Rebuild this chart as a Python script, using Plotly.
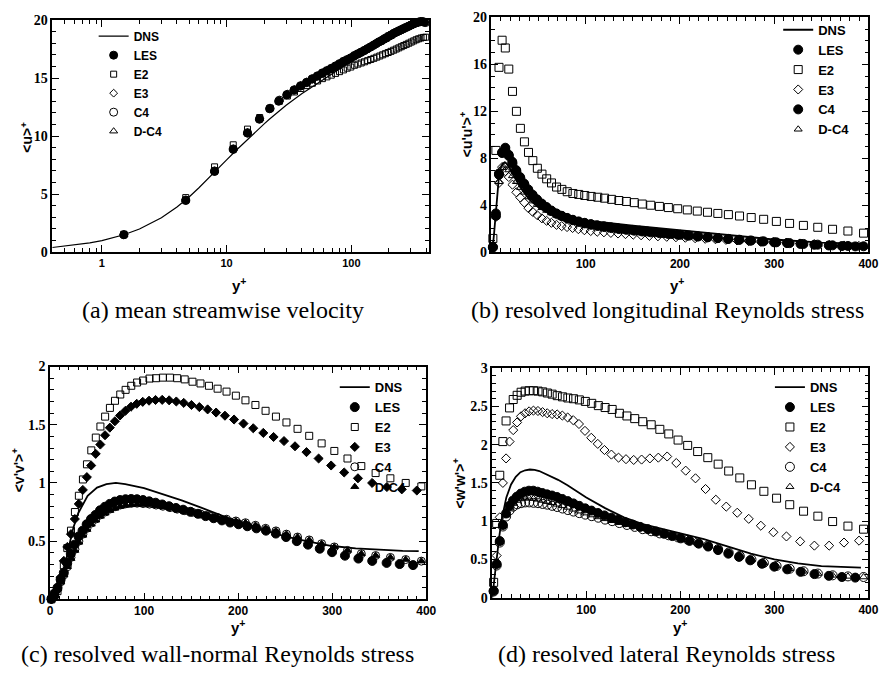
import plotly.graph_objects as go

W, H = 889, 679

# ---------------- grids (y+) ----------------
y_les = [1.5, 4.7, 8.0, 11.3, 14.7, 18.3, 22.1, 26.1, 30.3, 34.6, 39.0, 43.6, 48.3, 53.2, 58.3, 63.5,
         68.9, 74.5, 80.3, 86.3, 92.5, 98.9, 105.5, 112.3, 119.3, 126.5, 133.9, 141.5, 149.3, 157.3,
         165.5, 174.0, 182.8, 191.5, 200.5, 209.8, 219.5, 229.6, 240.1, 251.0, 262.4, 274.3, 286.8,
         299.9, 313.6, 327.9, 342.6, 357.9, 371.8, 386.0]
y_c4 = [1.5, 4.7, 8.0, 11.3, 14.7, 18.4, 22.3, 26.5, 30.7, 35.0, 39.3, 43.9, 48.7, 53.6, 58.6, 63.7,
        69.1, 74.7, 80.4, 86.4, 92.6, 99.0, 105.8, 112.8, 120.0, 127.5, 135.2, 143.2, 151.5, 160.0,
        169.0, 178.2, 187.7, 197.6, 207.8, 218.4, 229.2, 240.2, 251.4, 263.2, 275.6, 288.8, 302.3,
        316.3, 331.0, 346.2, 361.9, 378.2, 394.8]
y_e3 = [1.5, 4.7, 8.0, 11.3, 14.7, 18.4, 22.3, 26.4, 30.6, 34.9, 39.2, 43.8, 48.6, 53.5, 58.5, 63.6,
        69.0, 74.5, 80.2, 86.1, 92.2, 98.6, 105.3, 112.2, 119.3, 126.7, 134.3, 142.2, 150.4, 158.8,
        167.6, 176.6, 186.0, 195.7, 205.7, 216.1, 226.8, 237.7, 248.8, 260.5, 272.7, 285.6, 298.9,
        312.8, 327.4, 342.5, 358.2, 374.0, 390.0]

# ---------------- (a) mean streamwise velocity ----------------
yd_a = [0.4, 0.6, 0.8, 1, 1.5, 2, 3, 4, 5, 6, 7, 8, 9, 10, 12, 14, 16, 18, 20, 22, 26, 30, 40, 50,
        60, 80, 100, 150, 200, 250, 300, 350, 392]
ua_dns = [0.4, 0.6, 0.8, 1.0, 1.5, 2.0, 2.97, 3.9, 4.75, 5.55, 6.25, 6.9, 7.45, 7.95, 8.8, 9.5, 10.1,
          10.6, 11.05, 11.45, 12.1, 12.65, 13.65, 14.35, 14.9, 15.8, 16.45, 17.7, 18.55, 19.15, 19.55,
          19.75, 19.8]
ua_les = [1.5, 4.45, 6.95, 8.85, 10.25, 11.45, 12.35, 13.0, 13.55, 13.95, 14.3, 14.6, 14.9, 15.15,
          15.4, 15.6, 15.8, 16.0, 16.2, 16.4, 16.55, 16.7, 16.9, 17.05, 17.2, 17.35, 17.5, 17.65, 17.8,
          17.95, 18.1, 18.2, 18.35, 18.45, 18.6, 18.7, 18.85, 18.95, 19.05, 19.15, 19.25, 19.35, 19.45,
          19.55, 19.65, 19.75, 19.8, 19.85, 19.85, 19.8]
ua_e2 = [1.55, 4.7, 7.35, 9.25, 10.6, 11.6, 12.4, 13.0, 13.45, 13.8, 14.1, 14.35, 14.55, 14.75, 14.95,
         15.1, 15.25, 15.4, 15.55, 15.7, 15.85, 15.95, 16.1, 16.2, 16.3, 16.4, 16.5, 16.6, 16.7, 16.8,
         16.9, 17.0, 17.1, 17.2, 17.3, 17.4, 17.5, 17.6, 17.7, 17.8, 17.9, 18.0, 18.1, 18.2, 18.3,
         18.38, 18.45, 18.5, 18.52]
ua_e3 = [1.5, 4.5, 7.0, 8.9, 10.3, 11.5, 12.4, 13.05, 13.6, 14.0, 14.35, 14.65, 14.95, 15.2, 15.45,
         15.65, 15.85, 16.05, 16.25, 16.45, 16.6, 16.75, 16.95, 17.1, 17.25, 17.4, 17.55, 17.7, 17.85,
         18.0, 18.15, 18.3, 18.45, 18.6, 18.7, 18.85, 18.95, 19.05, 19.15, 19.25, 19.35, 19.45, 19.55,
         19.65, 19.75, 19.82, 19.86, 19.85, 19.8]
ua_c4 = [1.5, 4.5, 7.0, 8.9, 10.3, 11.5, 12.4, 13.1, 13.6, 14.0, 14.35, 14.65, 14.95, 15.2, 15.45,
         15.65, 15.85, 16.05, 16.25, 16.45, 16.6, 16.75, 16.95, 17.1, 17.25, 17.4, 17.55, 17.7, 17.85,
         18.0, 18.15, 18.3, 18.45, 18.6, 18.72, 18.85, 18.97, 19.08, 19.18, 19.28, 19.38, 19.48, 19.58,
         19.68, 19.76, 19.83, 19.87, 19.85, 19.78]
ua_dc4 = ua_c4

# ---------------- (b) <u'u'>+ ----------------
yd_b = [0, 1.5, 3, 4.5, 6, 8, 10, 12, 14, 16, 18, 20, 25, 30, 40, 50, 60, 70, 80, 100, 150, 200, 250,
        300, 350, 392]
ub_dns = [0, 0.5, 1.8, 3.3, 4.9, 6.5, 7.2, 7.55, 7.65, 7.55, 7.3, 7.0, 6.3, 5.6, 4.5, 3.8, 3.35, 3.1,
          2.95, 2.7, 2.25, 1.85, 1.45, 1.08, 0.82, 0.72]
ub_les = [0.45, 3.3, 6.7, 8.45, 8.9, 8.3, 7.7, 7.0, 6.4, 5.85, 5.35, 4.9, 4.5, 4.15, 3.85, 3.55, 3.3,
          3.1, 2.92, 2.76, 2.62, 2.5, 2.39, 2.29, 2.2, 2.12, 2.04, 1.97, 1.9, 1.83, 1.76, 1.69, 1.62,
          1.55, 1.48, 1.41, 1.34, 1.27, 1.2, 1.13, 1.05, 0.98, 0.91, 0.84, 0.77, 0.7, 0.63, 0.57, 0.52,
          0.49]
ub_e2 = [1.17, 8.67, 15.75, 18.06, 17.4, 15.6, 13.7, 12.0, 10.55, 9.4, 8.5, 7.8, 7.15, 6.65, 6.25,
         5.9, 5.55, 5.35, 5.15, 5.0, 4.92, 4.83, 4.75, 4.68, 4.6, 4.5, 4.4, 4.32, 4.22, 4.1, 4.0, 3.9,
         3.8, 3.7, 3.6, 3.5, 3.4, 3.3, 3.2, 3.08, 2.95, 2.8, 2.62, 2.45, 2.28, 2.12, 1.95, 1.8, 1.62]
ub_e3 = [0.5, 3.0, 5.9, 7.25, 6.9, 6.4, 5.75, 5.1, 4.65, 4.22, 3.75, 3.43, 3.15, 2.88, 2.67, 2.5, 2.33,
         2.22, 2.14, 2.06, 1.96, 1.87, 1.8, 1.74, 1.69, 1.64, 1.59, 1.54, 1.49, 1.44, 1.39, 1.35, 1.31,
         1.27, 1.23, 1.19, 1.14, 1.1, 1.05, 1.0, 0.95, 0.9, 0.85, 0.8, 0.74, 0.68, 0.62, 0.57, 0.53]
ub_c4 = [0.4, 3.1, 6.6, 8.5, 8.7, 8.2, 7.55, 6.9, 6.3, 5.75, 5.25, 4.8, 4.42, 4.08, 3.78, 3.5, 3.27,
         3.07, 2.88, 2.72, 2.58, 2.45, 2.33, 2.23, 2.14, 2.05, 1.97, 1.9, 1.83, 1.76, 1.69, 1.62, 1.55,
         1.48, 1.41, 1.34, 1.27, 1.2, 1.13, 1.06, 0.99, 0.92, 0.84, 0.77, 0.7, 0.64, 0.58, 0.53, 0.5]
ub_dc4 = [0.4, 3.0, 6.0, 7.2, 7.4, 7.0, 6.5, 6.0, 5.5, 5.1, 4.7, 4.35, 4.05, 3.78, 3.55, 3.33, 3.13,
          2.95, 2.8, 2.66, 2.53, 2.42, 2.32, 2.22, 2.13, 2.05, 1.97, 1.9, 1.83, 1.76, 1.69, 1.62, 1.55,
          1.48, 1.41, 1.34, 1.27, 1.2, 1.13, 1.06, 0.99, 0.92, 0.84, 0.77, 0.7, 0.64, 0.58, 0.53, 0.5]

# ---------------- (c) <v'v'>+ ----------------
yd_c = [0, 5, 10, 15, 20, 25, 30, 40, 50, 60, 70, 80, 100, 120, 140, 160, 180, 200, 225, 250, 275,
        300, 325, 350, 375, 392]
vc_dns = [0, 0.02, 0.09, 0.25, 0.45, 0.62, 0.74, 0.89, 0.96, 0.99, 1.0, 0.99, 0.955, 0.905, 0.85,
          0.79, 0.725, 0.665, 0.6, 0.54, 0.495, 0.458, 0.437, 0.424, 0.417, 0.414]
vc_les = [0.005, 0.05, 0.1, 0.17, 0.23, 0.31, 0.39, 0.47, 0.54, 0.59, 0.645, 0.69, 0.725, 0.765, 0.795,
          0.82, 0.84, 0.853, 0.86, 0.862, 0.86, 0.853, 0.842, 0.83, 0.815, 0.8, 0.785, 0.77, 0.752,
          0.735, 0.715, 0.697, 0.678, 0.66, 0.645, 0.628, 0.61, 0.59, 0.565, 0.535, 0.5, 0.47, 0.435,
          0.405, 0.375, 0.35, 0.33, 0.313, 0.303, 0.294]
vc_e2 = [0.0, 0.02, 0.07, 0.16, 0.29, 0.44, 0.59, 0.75, 0.89, 1.03, 1.16, 1.28, 1.39, 1.485, 1.57,
         1.645, 1.706, 1.76, 1.8, 1.835, 1.863, 1.88, 1.897, 1.9, 1.905, 1.905, 1.9, 1.89, 1.87, 1.855,
         1.835, 1.81, 1.785, 1.75, 1.71, 1.67, 1.62, 1.57, 1.52, 1.465, 1.405, 1.34, 1.275, 1.21,
         1.145, 1.085, 1.04, 1.0, 0.97]
vc_e3 = [0.0, 0.02, 0.08, 0.19, 0.33, 0.45, 0.56, 0.69, 0.82, 0.94, 1.05, 1.15, 1.25, 1.33, 1.41,
         1.475, 1.53, 1.58, 1.62, 1.655, 1.68, 1.697, 1.707, 1.713, 1.714, 1.71, 1.7, 1.688, 1.67,
         1.652, 1.632, 1.605, 1.578, 1.545, 1.51, 1.47, 1.43, 1.395, 1.36, 1.315, 1.265, 1.21, 1.15,
         1.09, 1.04, 1.0, 0.965, 0.945, 0.935]
vc_c4 = [0.0, 0.04, 0.09, 0.15, 0.21, 0.28, 0.36, 0.43, 0.5, 0.56, 0.61, 0.655, 0.69, 0.725, 0.75,
         0.775, 0.795, 0.81, 0.82, 0.825, 0.826, 0.823, 0.818, 0.81, 0.8, 0.788, 0.775, 0.762, 0.748,
         0.733, 0.718, 0.703, 0.688, 0.673, 0.658, 0.636, 0.61, 0.588, 0.56, 0.535, 0.51, 0.478, 0.45,
         0.42, 0.392, 0.376, 0.36, 0.342, 0.328]
vc_dc4 = [0.0, 0.04, 0.09, 0.15, 0.21, 0.28, 0.35, 0.42, 0.49, 0.55, 0.6, 0.645, 0.68, 0.713, 0.74,
          0.763, 0.782, 0.797, 0.807, 0.812, 0.815, 0.814, 0.81, 0.803, 0.795, 0.785, 0.773, 0.761,
          0.748, 0.733, 0.718, 0.703, 0.688, 0.673, 0.658, 0.636, 0.61, 0.588, 0.56, 0.535, 0.51,
          0.478, 0.45, 0.42, 0.392, 0.376, 0.36, 0.342, 0.328]

# ---------------- (d) <w'w'>+ ----------------
yd_d = [0, 2.5, 5, 7.5, 10, 12.5, 15, 20, 25, 30, 35, 40, 45, 50, 60, 70, 80, 100, 120, 140, 160, 180,
        200, 225, 250, 275, 300, 325, 350, 375, 392]
wd_dns = [0, 0.29, 0.55, 0.8, 1.02, 1.18, 1.31, 1.48, 1.58, 1.64, 1.665, 1.675, 1.67, 1.655, 1.6,
          1.54, 1.47, 1.31, 1.17, 1.05, 0.96, 0.9, 0.84, 0.765, 0.67, 0.575, 0.5, 0.448, 0.413, 0.398,
          0.392]
wd_les = [0.09, 0.44, 0.74, 0.95, 1.1, 1.2, 1.27, 1.32, 1.36, 1.385, 1.398, 1.398, 1.385, 1.368, 1.35,
          1.335, 1.315, 1.29, 1.262, 1.232, 1.2, 1.167, 1.138, 1.107, 1.075, 1.045, 1.018, 0.985,
          0.955, 0.925, 0.895, 0.865, 0.835, 0.805, 0.775, 0.742, 0.706, 0.668, 0.622, 0.575, 0.533,
          0.488, 0.443, 0.405, 0.37, 0.337, 0.308, 0.285, 0.27, 0.262]
wd_e2 = [0.2, 0.97, 1.6, 2.04, 2.31, 2.48, 2.59, 2.645, 2.685, 2.7, 2.705, 2.705, 2.7, 2.69, 2.675,
         2.66, 2.64, 2.625, 2.61, 2.6, 2.585, 2.565, 2.54, 2.51, 2.485, 2.46, 2.41, 2.375, 2.34, 2.3,
         2.26, 2.2, 2.14, 2.06, 1.99, 1.91, 1.83, 1.745, 1.655, 1.565, 1.475, 1.39, 1.3, 1.215, 1.13,
         1.065, 0.995, 0.935, 0.895]
wd_e3 = [0.1, 0.55, 1.05, 1.5, 1.82, 2.04, 2.19, 2.29, 2.37, 2.41, 2.435, 2.445, 2.44, 2.425, 2.41,
         2.4, 2.395, 2.38, 2.355, 2.32, 2.27, 2.18, 2.09, 2.01, 1.93, 1.87, 1.83, 1.81, 1.8, 1.805,
         1.82, 1.83, 1.845, 1.76, 1.66, 1.56, 1.42, 1.28, 1.19, 1.11, 1.03, 0.94, 0.855, 0.8, 0.735,
         0.68, 0.68, 0.72, 0.745]
wd_c4 = [0.08, 0.42, 0.72, 0.93, 1.06, 1.14, 1.19, 1.22, 1.235, 1.245, 1.245, 1.24, 1.235, 1.225, 1.215,
         1.2, 1.185, 1.165, 1.145, 1.125, 1.105, 1.085, 1.065, 1.045, 1.02, 1.0, 0.975, 0.95, 0.925,
         0.895, 0.868, 0.84, 0.815, 0.787, 0.757, 0.72, 0.68, 0.635, 0.59, 0.545, 0.5, 0.455, 0.415,
         0.378, 0.345, 0.315, 0.292, 0.278, 0.27]
wd_dc4 = [0.08, 0.43, 0.73, 0.94, 1.08, 1.17, 1.23, 1.27, 1.29, 1.3, 1.3, 1.295, 1.285, 1.27, 1.255,
          1.24, 1.22, 1.2, 1.18, 1.155, 1.13, 1.105, 1.08, 1.055, 1.03, 1.005, 0.98, 0.955, 0.93, 0.9,
          0.87, 0.845, 0.815, 0.787, 0.757, 0.72, 0.68, 0.635, 0.59, 0.545, 0.5, 0.455, 0.415, 0.378,
          0.345, 0.315, 0.292, 0.278, 0.27]

names = ["DNS", "LES", "E2", "E3", "C4", "D-C4"]
captions = ["(a) mean streamwise velocity", "(b) resolved longitudinal Reynolds stress",
            "(c) resolved wall-normal Reynolds stress", "(d) resolved lateral Reynolds stress"]
ylabels = ["&lt;u&gt;<sup>+</sup>", "&lt;u'u'&gt;<sup>+</sup>", "&lt;v'v'&gt;<sup>+</sup>",
           "&lt;w'w'&gt;<sup>+</sup>"]

panels = [
    dict(dns=(yd_a, ua_dns), les=ua_les, e2=ua_e2, e3=ua_e3, c4=ua_c4, dc4=ua_dc4, lw=1.2,
         sym=dict(les="circle", e2="square-open", e3="diamond-open", c4="circle-open", dc4="triangle-up-open"),
         size=dict(les=8, e2=6, e3=6, c4=8, dc4=7)),
    dict(dns=(yd_b, ub_dns), les=ub_les, e2=ub_e2, e3=ub_e3, c4=ub_c4, dc4=ub_dc4, lw=1.8,
         sym=dict(les="circle", e2="square-open", e3="diamond-open", c4="circle", dc4="triangle-up-open"),
         size=dict(les=9, e2=8, e3=7, c4=9, dc4=7)),
    dict(dns=(yd_c, vc_dns), les=vc_les, e2=vc_e2, e3=vc_e3, c4=vc_c4, dc4=vc_dc4, lw=1.8,
         sym=dict(les="circle", e2="square-open", e3="diamond", c4="circle-open", dc4="triangle-up"),
         size=dict(les=9, e2=7, e3=7, c4=8, dc4=7)),
    dict(dns=(yd_d, wd_dns), les=wd_les, e2=wd_e2, e3=wd_e3, c4=wd_c4, dc4=wd_dc4, lw=1.8,
         sym=dict(les="circle", e2="square-open", e3="diamond-open", c4="circle-open", dc4="triangle-up-open"),
         size=dict(les=9, e2=8, e3=7, c4=9, dc4=7)),
]

fig = go.Figure()
for i, p in enumerate(panels):
    k = "" if i == 0 else str(i + 1)
    xa, ya, lg = "x" + k, "y" + k, "legend" + k
    fig.add_trace(go.Scatter(x=p["dns"][0], y=p["dns"][1], mode="lines", name="DNS",
                             line=dict(color="black", width=p["lw"]), xaxis=xa, yaxis=ya, legend=lg))
    for key, nm, grid in [("les", "LES", y_les), ("e2", "E2", y_c4), ("e3", "E3", y_e3),
                          ("c4", "C4", y_c4), ("dc4", "D-C4", y_c4)]:
        fig.add_trace(go.Scatter(x=grid, y=p[key], mode="markers", name=nm, cliponaxis=False,
                                 marker=dict(symbol=p["sym"][key], size=p["size"][key], color="black",
                                             line=dict(color="black", width=1)),
                                 xaxis=xa, yaxis=ya, legend=lg))

def px2x(v):
    return v / W

def px2y(v):
    return 1 - v / H

xfont = dict(family="Liberation Sans", size=12, color="black", weight="bold")
yfont = dict(family="Liberation Serif", size=14, color="black", weight="bold")

def axis_common():
    return dict(showline=True, linecolor="black", linewidth=1.5, mirror="allticks", ticks="inside",
                ticklen=7, tickwidth=1, tickcolor="black", showgrid=False, zeroline=False)

def minor(dt):
    return dict(ticks="inside", ticklen=4, tickwidth=1, tickcolor="black", dtick=dt, showgrid=False)

# domains in pixels: (left, right, top, bottom)
boxes = [(50, 432, 13.3, 250.7), (495.7, 878.3, 10.7, 250.7), (47.7, 429.5, 367.7, 605.7),
         (496.5, 878.3, 369.3, 604)]

layout = dict(width=W, height=H, margin=dict(l=0, r=0, t=0, b=0), paper_bgcolor="white",
              plot_bgcolor="white", showlegend=True)

# (a)
b = boxes[0]
layout["xaxis"] = dict(axis_common(), domain=[px2x(b[0]), px2x(b[1])], anchor="y", type="log",
                       range=[-0.398, 2.62], tickvals=[1, 10, 100], ticktext=["1", "10", "100"],
                       tickfont=dict(xfont, size=11), minor=minor("D1"))
layout["yaxis"] = dict(axis_common(), domain=[px2y(b[3]), px2y(b[2])], anchor="x", range=[0, 20],
                       dtick=5, tickfont=yfont, minor=minor(1))
# (b)
b = boxes[1]
layout["xaxis2"] = dict(axis_common(), domain=[px2x(b[0]), px2x(b[1])], anchor="y2", range=[0, 400],
                        tickvals=[100, 200, 300, 400], tickfont=xfont, minor=minor(10))
layout["yaxis2"] = dict(axis_common(), domain=[px2y(b[3]), px2y(b[2])], anchor="x2", range=[0, 20],
                        dtick=4, tickfont=yfont, minor=minor(1))
# (c)
b = boxes[2]
layout["xaxis3"] = dict(axis_common(), domain=[px2x(b[0]), px2x(b[1])], anchor="y3", range=[0, 400],
                        dtick=100, tickfont=xfont, minor=minor(10))
layout["yaxis3"] = dict(axis_common(), domain=[px2y(b[3]), px2y(b[2])], anchor="x3", range=[0, 2],
                        tickvals=[0, 0.5, 1, 1.5, 2], ticktext=["0", "0.5", "1", "1.5", "2"], tickfont=yfont,
                        minor=minor(0.1))
# (d)
b = boxes[3]
layout["xaxis4"] = dict(axis_common(), domain=[px2x(b[0]), px2x(b[1])], anchor="y4", range=[0, 400],
                        tickvals=[100, 200, 300, 400], tickfont=xfont, minor=minor(10))
layout["yaxis4"] = dict(axis_common(), domain=[px2y(b[3]), px2y(b[2])], anchor="x4", range=[0, 3],
                        tickvals=[0, 0.5, 1, 1.5, 2, 2.5, 3], ticktext=["0", "0.5", "1", "1.5", "2", "2.5", "3"],
                        tickfont=yfont, minor=minor(0.1))

legend_pos = [(92, 15, 12), (786.7, 8, 13), (336.7, 373.5, 13), (778.3, 373.5, 13)]
for i, (lx, ly, fs) in enumerate(legend_pos):
    k = "legend" if i == 0 else "legend" + str(i + 1)
    layout[k] = dict(x=px2x(lx), y=px2y(ly), xanchor="left", yanchor="top", bgcolor="rgba(0,0,0,0)",
                     borderwidth=0, font=dict(family="Liberation Sans", size=fs, color="black", weight="bold"),
                     tracegroupgap=0, itemwidth=30)

fig.update_layout(**layout)

ann = []
cap_pos = [(223, 310), (674, 310), (218, 661.5), (673, 661.5)]
xt_pos = [(239, 284), (684, 284), (238, 634), (687, 634)]
yt_pos = [(24, 133), (470, 130), (15, 473), (463, 487)]
for i in range(4):
    ann.append(dict(text=captions[i], x=px2x(cap_pos[i][0]), y=px2y(cap_pos[i][1]), xref="paper",
                    yref="paper", showarrow=False, xanchor="center", yanchor="middle",
                    font=dict(family="Liberation Serif", size=24, color="black")))
    ann.append(dict(text="y<sup>+</sup>", x=px2x(xt_pos[i][0]), y=px2y(xt_pos[i][1]), xref="paper",
                    yref="paper", showarrow=False, xanchor="center", yanchor="middle",
                    font=dict(family="Liberation Sans", size=15, color="black", weight="bold")))
    ann.append(dict(text=ylabels[i], x=px2x(yt_pos[i][0]), y=px2y(yt_pos[i][1]), xref="paper",
                    yref="paper", showarrow=False, xanchor="center", yanchor="middle", textangle=-90,
                    font=dict(family="Liberation Sans", size=14, color="black", weight="bold")))
fig.update_layout(annotations=ann)

fig.write_html("out.html")
